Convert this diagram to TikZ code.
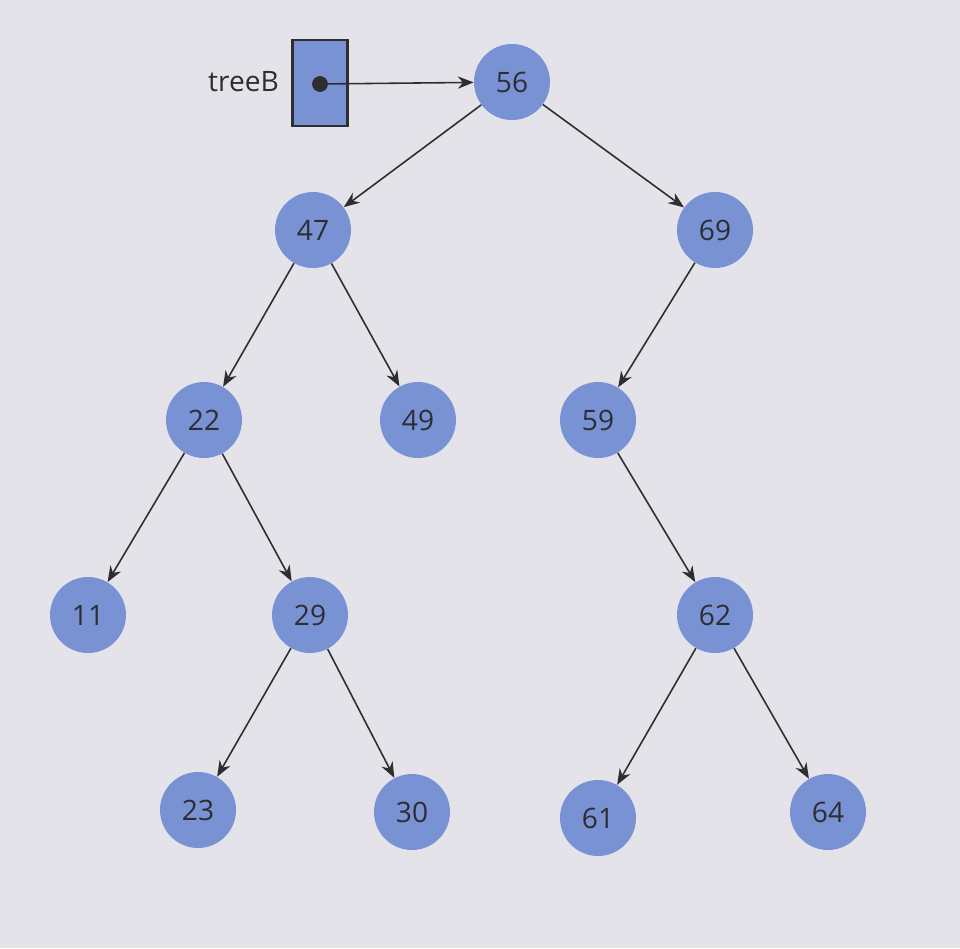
\documentclass[tikz,border=0pt]{standalone}
\usepackage{fontspec}
\setmainfont{Open Sans}
\usetikzlibrary{arrows.meta}
\definecolor{pagebg}{RGB}{228,227,234}
\definecolor{nodefill}{RGB}{120,146,212}
\definecolor{ink}{RGB}{45,45,50}
\tikzset{
  tnode/.style={circle,fill=nodefill,minimum size=1.52cm,inner sep=0pt,font=\fontsize{16}{18}\selectfont,text=ink},
  edge/.style={draw=ink,line width=0.9pt,-{Stealth[length=9pt,width=7pt]}}
}
\begin{document}
\begin{tikzpicture}[x=0.02cm,y=-0.02cm]
\fill[pagebg] (0,0) rectangle (960,948);
\useasboundingbox (0,0) rectangle (960,948);
\node[draw=ink,line width=1.4pt,fill=nodefill,minimum width=1.1cm,minimum height=1.72cm,inner sep=0pt] (box) at (320,83) {};
\fill[ink] (320,84) circle (4.5pt);
\coordinate (dot) at (320,84);
\node[font=\fontsize{16}{18}\selectfont,text=ink,anchor=east] (lbl) at (285,82) {treeB};
\node[tnode] (n56) at (512,82) {56};
\node[tnode] (n47) at (313,230) {47};
\node[tnode] (n69) at (715,230) {69};
\node[tnode] (n22) at (204,420) {22};
\node[tnode] (n49) at (418,420) {49};
\node[tnode] (n59) at (598,420) {59};
\node[tnode] (n11) at (88,615) {11};
\node[tnode] (n29) at (310,615) {29};
\node[tnode] (n62) at (715,615) {62};
\node[tnode] (n23) at (198,810) {23};
\node[tnode] (n30) at (412,812) {30};
\node[tnode] (n61) at (598,818) {61};
\node[tnode] (n64) at (828,812) {64};
\draw[edge] (dot) -- (n56);
\draw[edge] (n56) -- (n47);
\draw[edge] (n56) -- (n69);
\draw[edge] (n47) -- (n22);
\draw[edge] (n47) -- (n49);
\draw[edge] (n69) -- (n59);
\draw[edge] (n22) -- (n11);
\draw[edge] (n22) -- (n29);
\draw[edge] (n59) -- (n62);
\draw[edge] (n29) -- (n23);
\draw[edge] (n29) -- (n30);
\draw[edge] (n62) -- (n61);
\draw[edge] (n62) -- (n64);
\end{tikzpicture}
\end{document}
